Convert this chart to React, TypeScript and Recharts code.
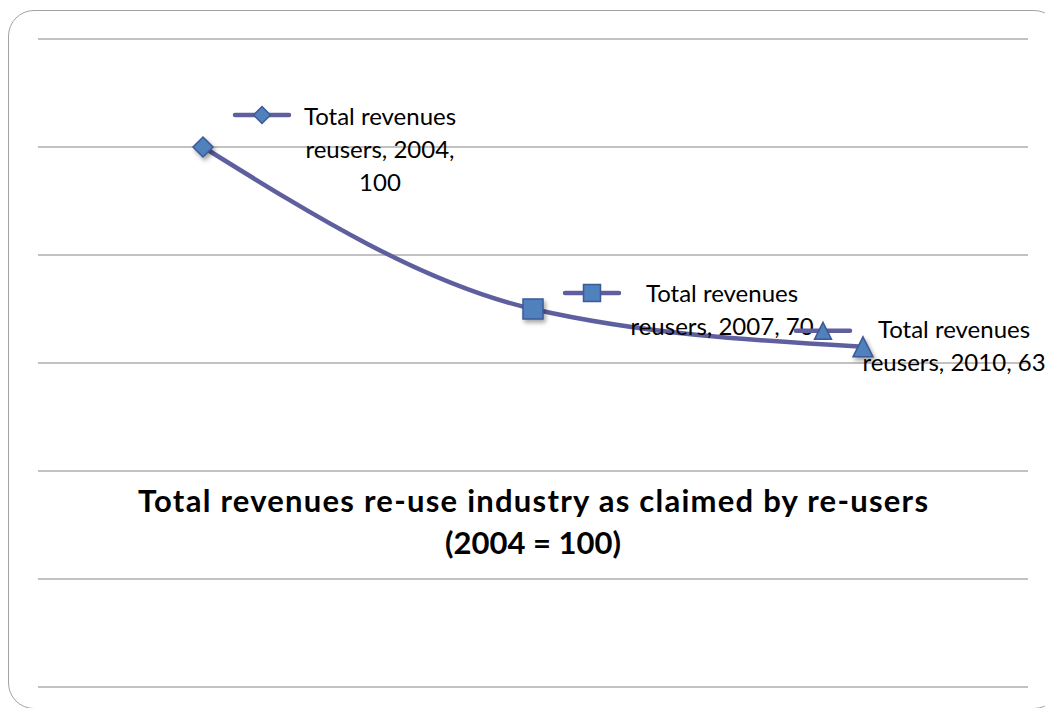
import React from "react";
import { LineChart, Line, XAxis, YAxis, CartesianGrid, LabelList } from "recharts";

const years = ["2004", "2007", "2010"];
const revenues = [100, 70, 63];
const seriesName = "Total revenues reusers";
const yTicks = [0, 20, 40, 60, 80, 100, 120];
const titleLines = ["Total revenues re-use industry as claimed by re-users", "(2004 = 100)"];

const data = years.map((year, i) => ({ year, value: revenues[i] }));

const LINE = "#5f5f9f";
const FILL = "#4f81bd";
const EDGE = "#3e5a96";
const FONT = "Lato, 'Open Sans', sans-serif";

// where each data label sits relative to its point (key marker + text block)
const labelLayout = [
  { keyDx: 59, keyDy: -32, textDx: 177, firstDy: -22 },
  { keyDx: 59, keyDy: -16, textDx: 189, firstDy: -7 },
  { keyDx: -40, keyDy: -16, textDx: 91, firstDy: -9 },
];

function Marker({ index, cx, cy, size, shadow }: { index: number; cx: number; cy: number; size: number; shadow?: boolean }) {
  const h = size / 2;
  const style = shadow ? { filter: "drop-shadow(2px 3px 2px rgba(0,0,0,0.35))" } : undefined;
  const common = { fill: FILL, stroke: EDGE, strokeWidth: 1.5, style };
  if (index === 0) {
    return <polygon {...common} points={`${cx},${cy - h} ${cx + h},${cy} ${cx},${cy + h} ${cx - h},${cy}`} />;
  }
  if (index === 1) {
    return <rect {...common} x={cx - h} y={cy - h} width={size} height={size} />;
  }
  return <polygon {...common} points={`${cx},${cy - h} ${cx + h},${cy + h} ${cx - h},${cy + h}`} />;
}

const renderDot = (props: any) => (
  <Marker key={`dot-${props.index}`} index={props.index} cx={props.cx} cy={props.cy} size={20} shadow />
);

const renderLabel = (props: any) => {
  const { x, y, index } = props;
  const lay = labelLayout[index];
  const val = revenues[index];
  const lines =
    index === 0
      ? ["Total revenues", `reusers, ${years[index]},`, `${val}`]
      : ["Total revenues", `reusers, ${years[index]}, ${val}`];
  const kx = x + lay.keyDx;
  const ky = y + lay.keyDy;
  return (
    <g key={`lbl-${index}`}>
      <line x1={kx - 27} x2={kx + 27} y1={ky} y2={ky} stroke={LINE} strokeWidth={4.5} strokeLinecap="round" />
      <Marker index={index} cx={kx} cy={ky} size={17} />
      {lines.map((t, i) => (
        <text
          key={i}
          x={x + lay.textDx}
          y={y + lay.firstDy + i * 33}
          textAnchor="middle"
          fontFamily={FONT}
          fontSize={24}
          fill="#000"
        >
          {t}
        </text>
      ))}
    </g>
  );
};

export default function App() {
  return (
    <div style={{ position: "absolute", left: 0, top: 0, width: 1045, height: 708, overflow: "hidden", background: "#fff" }}>
      <div
        style={{
          position: "absolute",
          left: 8,
          top: 10,
          width: 1050,
          height: 697,
          border: "1.5px solid #a3a3a3",
          borderRadius: 26,
        }}
      />
      <div style={{ position: "absolute", left: 0, top: 0 }}>
        <LineChart width={1045} height={708} data={data} margin={{ top: 39, right: 17, bottom: 21, left: 38 }}>
          <CartesianGrid vertical={false} stroke="#858585" strokeWidth={1} />
          <XAxis dataKey="year" hide padding={{ left: 165, right: 165 }} />
          <YAxis hide domain={[0, 120]} ticks={yTicks} />
          <Line
            type="monotone"
            dataKey="value"
            name={seriesName}
            stroke={LINE}
            strokeWidth={4.5}
            dot={renderDot}
            activeDot={false}
            isAnimationActive={false}
          >
            <LabelList dataKey="value" content={renderLabel} />
          </Line>
        </LineChart>
      </div>
      <svg width={1045} height={708} style={{ position: "absolute", left: 0, top: 0, pointerEvents: "none" }}>
        {titleLines.map((t, i) => (
          <text
            key={i}
            x={533}
            y={512 + i * 42}
            textAnchor="middle"
            fontFamily={FONT}
            fontWeight="bold"
            fontSize={31}
            fill="#000"
            {...(i === 0 ? { textLength: 790, lengthAdjust: "spacing" } : {})}
          >
            {t}
          </text>
        ))}
      </svg>
    </div>
  );
}
